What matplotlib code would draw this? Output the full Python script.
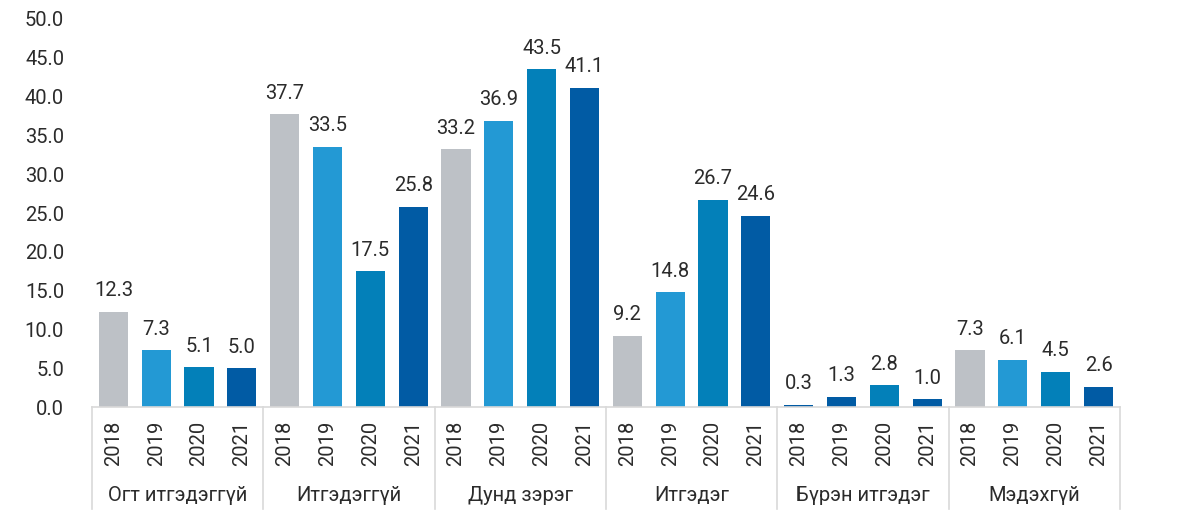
import matplotlib
matplotlib.use("Agg")
import matplotlib.pyplot as plt
import matplotlib.transforms as mtransforms

categories = ["Огт итгэдэггүй", "Итгэдэггүй", "Дунд зэрэг", "Итгэдэг", "Бүрэн итгэдэг", "Мэдэхгүй"]
years = ["2018", "2019", "2020", "2021"]
v2018 = [12.3, 37.7, 33.2, 9.2, 0.3, 7.3]
v2019 = [7.3, 33.5, 36.9, 14.8, 1.3, 6.1]
v2020 = [5.1, 17.5, 43.5, 26.7, 2.8, 4.5]
v2021 = [5.0, 25.8, 41.1, 24.6, 1.0, 2.6]
yticks = [0, 5, 10, 15, 20, 25, 30, 35, 40, 45, 50]

series = [v2018, v2019, v2020, v2021]
colors = ["#BDC1C6", "#2399D4", "#0380B9", "#015BA4"]
# in the source, the "Бүрэн итгэдэг" group uses dark blue for 2018/2019
special = {4: ["#015BA4", "#015BA4", "#0380B9", "#015BA4"]}

plt.rcParams['font.family'] = ['Roboto', 'DejaVu Sans']
fig = plt.figure(figsize=(11.82, 5.26), dpi=100)
ax = fig.add_axes([0.0778, 0.2262, 0.9475 - 0.0778, 0.9639 - 0.2262])

text_color = "#2B2B2B"
line_color = "#D9D9D9"
fs = 14.5
width = 0.68
ngroups = len(categories)
nyears = len(years)

for g in range(ngroups):
    for i in range(nyears):
        x = g * nyears + i + 0.5
        val = series[i][g]
        col = special.get(g, colors)[i]
        ax.bar(x, val, width=width, color=col)
        ax.text(x, val + 1.5, f"{val:.1f}", ha="center", va="bottom",
                fontsize=fs, color=text_color)

ax.set_xlim(0, ngroups * nyears)
ax.set_ylim(0, 50)
ax.set_yticks(yticks)
ax.set_yticklabels([f"{t:.1f}" for t in yticks], fontsize=fs, color=text_color)
ax.tick_params(axis="y", length=0, pad=20)
ax.set_xticks([])
for s in ["top", "right", "left"]:
    ax.spines[s].set_visible(False)
ax.spines["bottom"].set_color(line_color)
ax.spines["bottom"].set_linewidth(1.2)

trans = mtransforms.blended_transform_factory(ax.transData, ax.transAxes)
for g in range(ngroups):
    for i in range(nyears):
        x = g * nyears + i + 0.5
        ax.text(x, -0.093, years[i], rotation=90, ha="center", va="center",
                fontsize=fs, color=text_color,
                transform=trans, clip_on=False)
    ax.text(g * nyears + nyears / 2, -0.228, categories[g], ha="center", va="center",
            fontsize=fs, color=text_color,
            transform=trans, clip_on=False)
for g in range(ngroups + 1):
    ax.plot([g * nyears, g * nyears], [0, -0.262], color=line_color, lw=1.2,
            transform=trans, clip_on=False)

fig.savefig("out.png", dpi=100, facecolor="white")
